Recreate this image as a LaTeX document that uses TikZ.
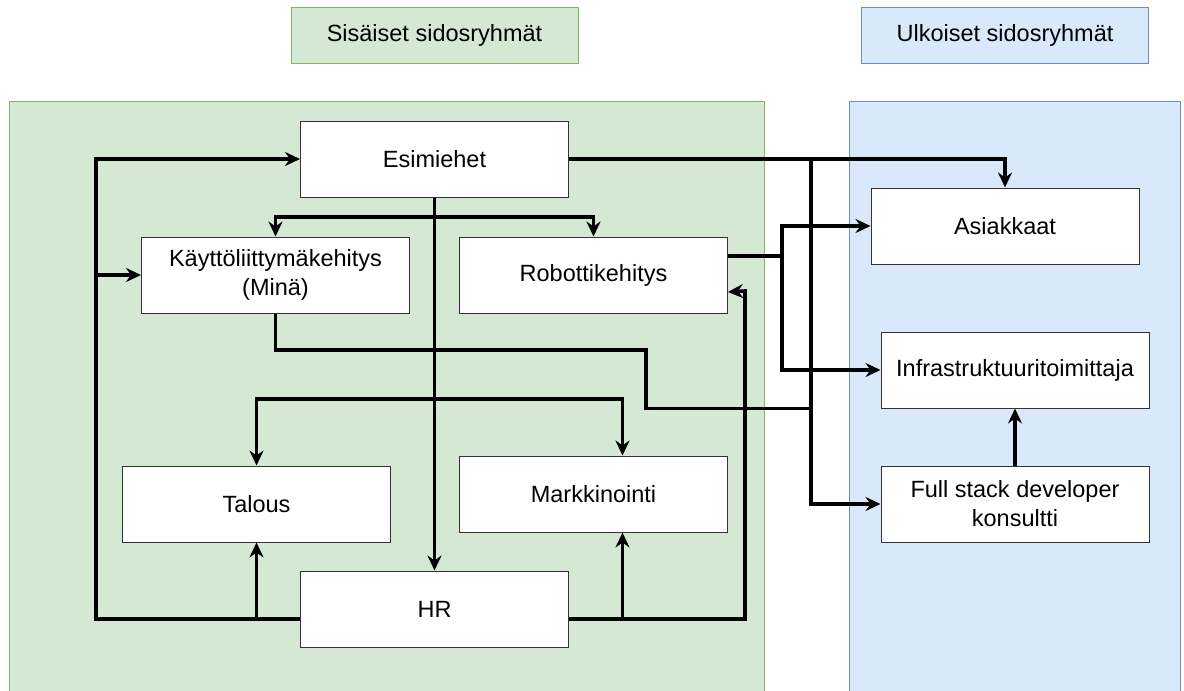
\documentclass[tikz,border=0pt]{standalone}
\usepackage{fontspec}
\setmainfont{Liberation Sans}
\usetikzlibrary{positioning,arrows.meta}
\definecolor{ingreen}{HTML}{D5E8D4}
\definecolor{ingreenln}{HTML}{82B366}
\definecolor{exblue}{HTML}{DAE8FC}
\definecolor{exblueln}{HTML}{6C8EBF}
\tikzset{
  box/.style={draw=black!80, fill=white, line width=1pt, minimum width=268pt, minimum height=76pt, align=center, font=\fontsize{23.5}{29}\selectfont, inner sep=4pt},
  hdrin/.style={draw=ingreenln, fill=ingreen, line width=1pt, minimum width=287pt, minimum height=56pt, font=\fontsize{23.5}{29}\selectfont},
  hdrex/.style={hdrin, draw=exblueln, fill=exblue},
  ln/.style={line width=3.6pt, black},
  ar/.style={ln, -{Stealth[length=15pt, width=14pt, inset=5pt]}},
}
\begin{document}
\begin{tikzpicture}[x=1pt, y=-1pt, node distance=39pt and 10pt]
\clip (0,0) rectangle (1184,691);
\fill[white] (0,0) rectangle (1184,691);
\draw[ingreenln, fill=ingreen, line width=1pt] (9,101) rectangle (764,710);
\draw[exblueln, fill=exblue, line width=1pt] (849,101) rectangle (1180,710);
\node[hdrin] (sis) at (434.5,35) {Sisäiset sidosryhmät};
\node[hdrex] (ulk) at (1005,35) {Ulkoiset sidosryhmät};
\node[box] (esim) at (434.5,159) {Esimiehet};
\node[box, below left=39pt and -110pt of esim] (kayt) {Käyttöliittymäkehitys\\(Minä)};
\node[box, below right=39pt and -110pt of esim] (robo) {Robottikehitys};
\node[box, below=373pt of esim] (hr) {HR};
\node[box, above left=28pt and -91pt of hr] (tal) {Talous};
\node[box, above right=38pt and -110pt of hr] (mark) {Markkinointi};
\node[box] (asi) at (1005,226) {Asiakkaat};
\node[box] (infra) at (1015,370) {Infrastruktuuritoimittaja};
\node[box, below=57pt of infra] (full) {Full stack developer\\konsultti};
\coordinate (lx) at (96,0);
\coordinate (rx) at (745,0);
\coordinate (mx) at (811,0);
\coordinate (bx) at (782,0);
\coordinate (kx) at (646,350);
\coordinate (t1) at (0,217);
\coordinate (t2) at (0,399);
\coordinate (hrl) at ([yshift=-10pt]hr.west);
\coordinate (hrr) at ([yshift=-10pt]hr.east);
\coordinate (rbo) at ([yshift=19pt]robo.east);
\draw[ar] (hrl) -| (lx |- esim.west) -- (esim.west);
\draw[ar] (lx |- kayt.west) -- (kayt.west);
\draw[ar] (tal.south |- hrl) -- (tal.south);
\draw[ar] (hrr) -| (rx |- 0,291) -- ([yshift=-17pt]robo.east);
\draw[ar] ([xshift=29pt]mark.south |- hrr) -- ([xshift=29pt]mark.south);
\draw[ar] (esim.south) -- (hr.north);
\draw[ar] (esim.south |- t1) -| (kayt.north);
\draw[ar] (esim.south |- t1) -| (robo.north);
\draw[ar] (esim.south |- t2) -| (tal.north);
\draw[ar] (esim.south |- t2) -| ([xshift=29pt]mark.north);
\draw[ar] (esim.east) -| (asi.north);
\draw[ar] (mx |- esim.east) |- (full.west);
\draw[ln] (kayt.south) |- (kx) |- (mx |- infra.south);
\draw[ar] (rbo) -| (bx |- asi.west) -- (asi.west);
\draw[ar] (bx |- rbo) |- (infra.west);
\draw[ar] (full) -- (infra);
\end{tikzpicture}
\end{document}
